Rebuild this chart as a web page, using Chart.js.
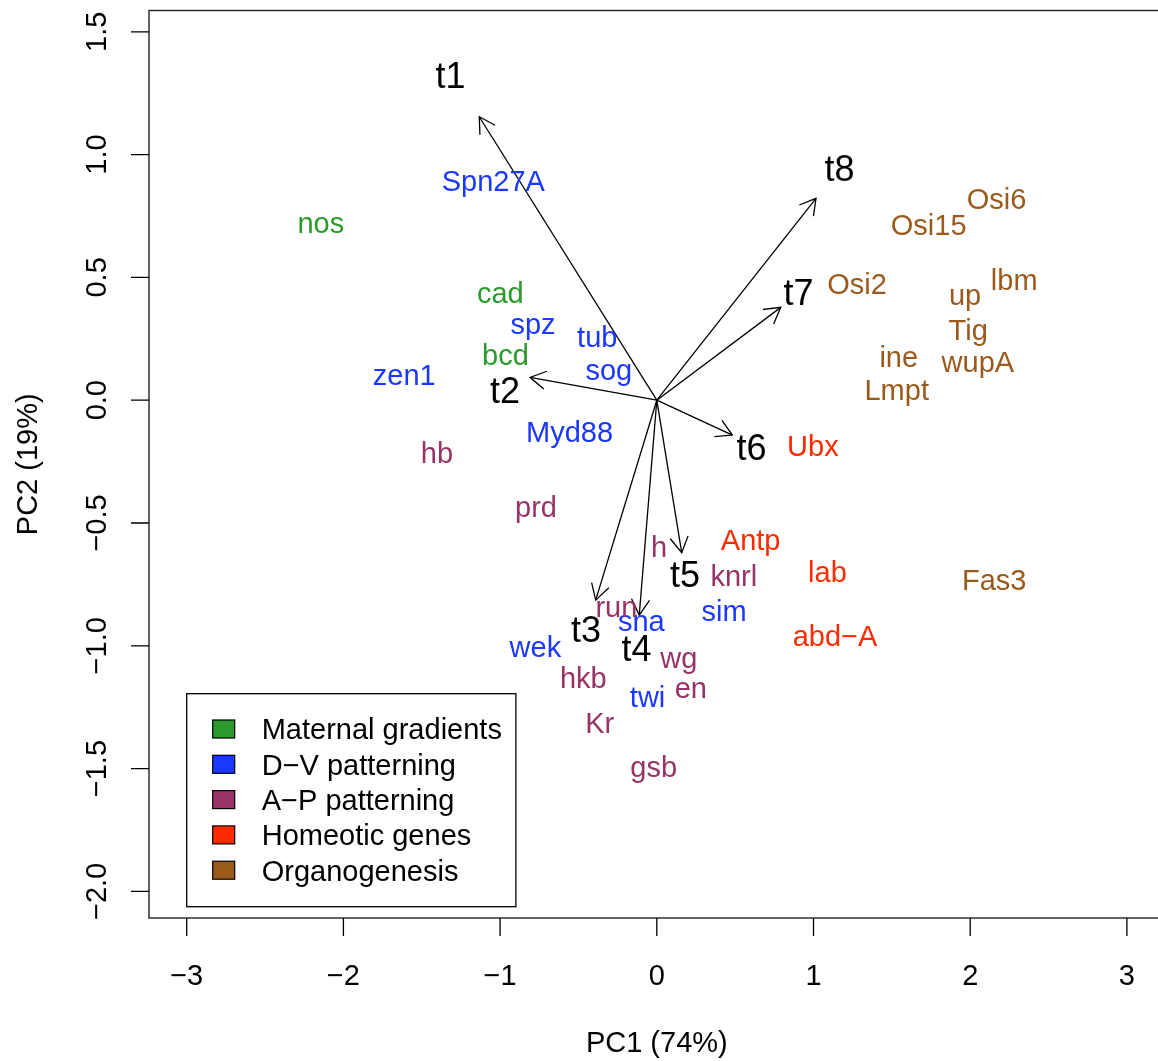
<!DOCTYPE html>
<html><head><meta charset="utf-8">
<script src="https://cdn.jsdelivr.net/npm/chart.js@4.4.1/dist/chart.umd.min.js"></script>
<style>html,body{margin:0;padding:0;background:#fff;overflow:hidden;width:1158px;height:1061px}#wrap{width:1158px;height:1061px;overflow:hidden}canvas{display:block}</style>
</head><body>
<div id="wrap"><canvas id="c" width="1166" height="1061" style="width:1166px;height:1061px"></canvas></div>
<script>
// ---- data ----
const categories = ['Maternal gradients', 'D\u2212V patterning', 'A\u2212P patterning', 'Homeotic genes', 'Organogenesis'];
const categoryColors = ['#2A9A2A', '#1A38FF', '#993366', '#FF2A00', '#9A5A1C'];

const geneNames = ['nos','cad','bcd',
  'Spn27A','spz','tub','sog','zen1','Myd88','wek','sna','sim','twi',
  'hb','prd','h','knrl','run','wg','hkb','en','Kr','gsb',
  'Ubx','Antp','lab','abd\u2212A',
  'Osi6','Osi15','Osi2','lbm','up','Tig','wupA','ine','Lmpt','Fas3'];
const geneGroup = [0,0,0, 1,1,1,1,1,1,1,1,1,1, 2,2,2,2,2,2,2,2,2,2, 3,3,3,3, 4,4,4,4,4,4,4,4,4,4];
const genePC1 = [-2.144,-0.999,-0.966,
  -1.043,-0.790,-0.380,-0.306,-1.612,-0.557,-0.775,-0.099,0.429,-0.059,
  -1.403,-0.771,0.014,0.491,-0.258,0.140,-0.469,0.217,-0.364,-0.020,
  0.996,0.599,1.089,1.137,
  2.168,1.735,1.278,2.281,1.967,1.987,2.049,1.544,1.531,2.153];
const genePC2 = [0.722,0.437,0.186,
  0.895,0.311,0.260,0.125,0.104,-0.129,-1.002,-0.896,-0.855,-1.208,
  -0.212,-0.432,-0.597,-0.714,-0.842,-1.049,-1.131,-1.171,-1.314,-1.491,
  -0.184,-0.568,-0.699,-0.958,
  0.820,0.715,0.473,0.491,0.430,0.287,0.156,0.176,0.043,-0.730];

const timeLabels = ['t1','t2','t3','t4','t5','t6','t7','t8'];
const loadPC1 = [-1.133,-0.809,-0.390,-0.112,0.159,0.482,0.791,1.016];
const loadPC2 = [1.154,0.093,-0.814,-0.875,-0.621,-0.142,0.378,0.822];
const labelPC1 = [-1.317,-0.969,-0.451,-0.130,0.180,0.604,0.904,1.166];
const labelPC2 = [1.323,0.040,-0.931,-1.008,-0.709,-0.191,0.440,0.945];

const xTicks = [-3,-2,-1,0,1,2,3];
const xTickLabels = ['\u22123','\u22122','\u22121','0','1','2','3'];
const yTicks = [-2,-1.5,-1,-0.5,0,0.5,1,1.5];
const yTickLabels = ['\u22122.0','\u22121.5','\u22121.0','\u22120.5','0.0','0.5','1.0','1.5'];
const xTitle = 'PC1 (74%)';
const yTitle = 'PC2 (19%)';

// ---- build datasets ----
const FONT = '"Liberation Sans", Arial, Helvetica, sans-serif';
const datasets = [];
categories.forEach((cat, gi) => {
  const idx = geneNames.map((_, i) => i).filter(i => geneGroup[i] === gi);
  datasets.push({
    type: 'scatter', label: cat, kind: 'genes', color: categoryColors[gi],
    names: idx.map(i => geneNames[i]),
    data: idx.map(i => ({x: genePC1[i], y: genePC2[i]})),
    pointRadius: 0, pointHoverRadius: 0
  });
});
timeLabels.forEach((t, i) => {
  datasets.push({
    type: 'scatter', label: t, kind: 'arrow', showLine: true,
    data: [{x: 0, y: 0}, {x: loadPC1[i], y: loadPC2[i]}],
    borderColor: '#000', borderWidth: 1.3, pointRadius: 0, pointHoverRadius: 0, fill: false
  });
});
datasets.push({
  type: 'scatter', label: 'time labels', kind: 'tlabel', names: timeLabels,
  data: labelPC1.map((x, i) => ({x, y: labelPC2[i]})),
  pointRadius: 0, pointHoverRadius: 0
});

const decor = {
  id: 'decor',
  beforeDraw(chart) {
    const ctx = chart.ctx;
    ctx.save(); ctx.fillStyle = '#fff'; ctx.fillRect(0, 0, chart.width, chart.height); ctx.restore();
  },
  afterDatasetsDraw(chart) {
    const ctx = chart.ctx;
    const ca = chart.chartArea;
    const xs = chart.scales.x, ys = chart.scales.y;
    ctx.save();
    // arrow heads
    chart.data.datasets.forEach((ds, di) => {
      if (ds.kind !== 'arrow') return;
      const pts = chart.getDatasetMeta(di).data;
      const o = pts[0], p = pts[1];
      const ang = Math.atan2(p.y - o.y, p.x - o.x);
      const L = 18, a = Math.PI / 6;
      ctx.strokeStyle = '#000'; ctx.lineWidth = 1.3;
      ctx.beginPath();
      ctx.moveTo(p.x - L * Math.cos(ang - a), p.y - L * Math.sin(ang - a));
      ctx.lineTo(p.x, p.y);
      ctx.lineTo(p.x - L * Math.cos(ang + a), p.y - L * Math.sin(ang + a));
      ctx.stroke();
    });
    // text labels
    ctx.textAlign = 'center'; ctx.textBaseline = 'alphabetic';
    chart.data.datasets.forEach((ds, di) => {
      if (ds.kind !== 'genes' && ds.kind !== 'tlabel') return;
      const fs = ds.kind === 'genes' ? 29 : 36;
      ctx.font = fs + 'px ' + FONT;
      ctx.fillStyle = ds.kind === 'genes' ? ds.color : '#000';
      chart.getDatasetMeta(di).data.forEach((el, j) => {
        ctx.fillText(ds.names[j], el.x, el.y + 0.358 * fs);
      });
    });
    // box
    ctx.strokeStyle = '#222'; ctx.lineWidth = 1.4;
    ctx.strokeRect(ca.left, ca.top, ca.right - ca.left, ca.bottom - ca.top);
    // ticks
    ctx.strokeStyle = '#000'; ctx.lineWidth = 1.3;
    ctx.beginPath();
    xTicks.forEach(v => { const px = xs.getPixelForValue(v); ctx.moveTo(px, ca.bottom); ctx.lineTo(px, ca.bottom + 18); });
    yTicks.forEach(v => { const py = ys.getPixelForValue(v); ctx.moveTo(ca.left, py); ctx.lineTo(ca.left - 18, py); });
    ctx.stroke();
    // tick labels
    ctx.fillStyle = '#000';
    ctx.font = '29px ' + FONT;
    ctx.textAlign = 'center'; ctx.textBaseline = 'alphabetic';
    xTicks.forEach((v, i) => ctx.fillText(xTickLabels[i], xs.getPixelForValue(v), ca.bottom + 66.5));
    yTicks.forEach((v, i) => {
      ctx.save();
      ctx.translate(ca.left - 43.5, ys.getPixelForValue(v));
      ctx.rotate(-Math.PI / 2);
      ctx.fillText(yTickLabels[i], 0, 0);
      ctx.restore();
    });
    // axis titles
    ctx.fillText(xTitle, (ca.left + ca.right) / 2, ca.bottom + 134);
    ctx.save();
    ctx.translate(ca.left - 112, (ca.top + ca.bottom) / 2);
    ctx.rotate(-Math.PI / 2);
    ctx.fillText(yTitle, 0, 0);
    ctx.restore();
    // legend
    ctx.font = '29px ' + FONT;
    const lx = ca.left + 37.7, lBottom = ca.bottom - 11.3;
    const rowH = 35.3, topPad = 35.3;
    const textX = lx + 75;
    let maxW = 0;
    categories.forEach(c => { maxW = Math.max(maxW, ctx.measureText(c).width); });
    const lW = textX + maxW + 14 - lx;
    const lH = rowH * categories.length + 36.5;
    const lTop = lBottom - lH;
    ctx.fillStyle = '#fff';
    ctx.fillRect(lx, lTop, lW, lH);
    ctx.strokeStyle = '#000'; ctx.lineWidth = 1.3;
    ctx.strokeRect(lx, lTop, lW, lH);
    categories.forEach((c, i) => {
      const cy = lTop + topPad + i * rowH;
      ctx.fillStyle = categoryColors[i];
      ctx.fillRect(lx + 26, cy - 9, 22, 18);
      ctx.strokeStyle = '#000'; ctx.lineWidth = 1.2;
      ctx.strokeRect(lx + 26, cy - 9, 22, 18);
      ctx.fillStyle = '#000';
      ctx.textAlign = 'left';
      ctx.fillText(c, textX, cy + 0.358 * 29);
    });
    ctx.restore();
  }
};

new Chart(document.getElementById('c'), {
  type: 'scatter',
  data: { datasets },
  options: {
    responsive: false, animation: false, devicePixelRatio: 1,
    layout: { padding: { left: 149, top: 10.5, right: 1.4, bottom: 143 } },
    plugins: { legend: { display: false }, tooltip: { enabled: false } },
    events: [],
    scales: {
      x: { type: 'linear', min: -3.2406, max: 3.2406, display: false },
      y: { type: 'linear', min: -2.1083, max: 1.5867, display: false }
    }
  },
  plugins: [decor]
});
</script>
</body></html>
